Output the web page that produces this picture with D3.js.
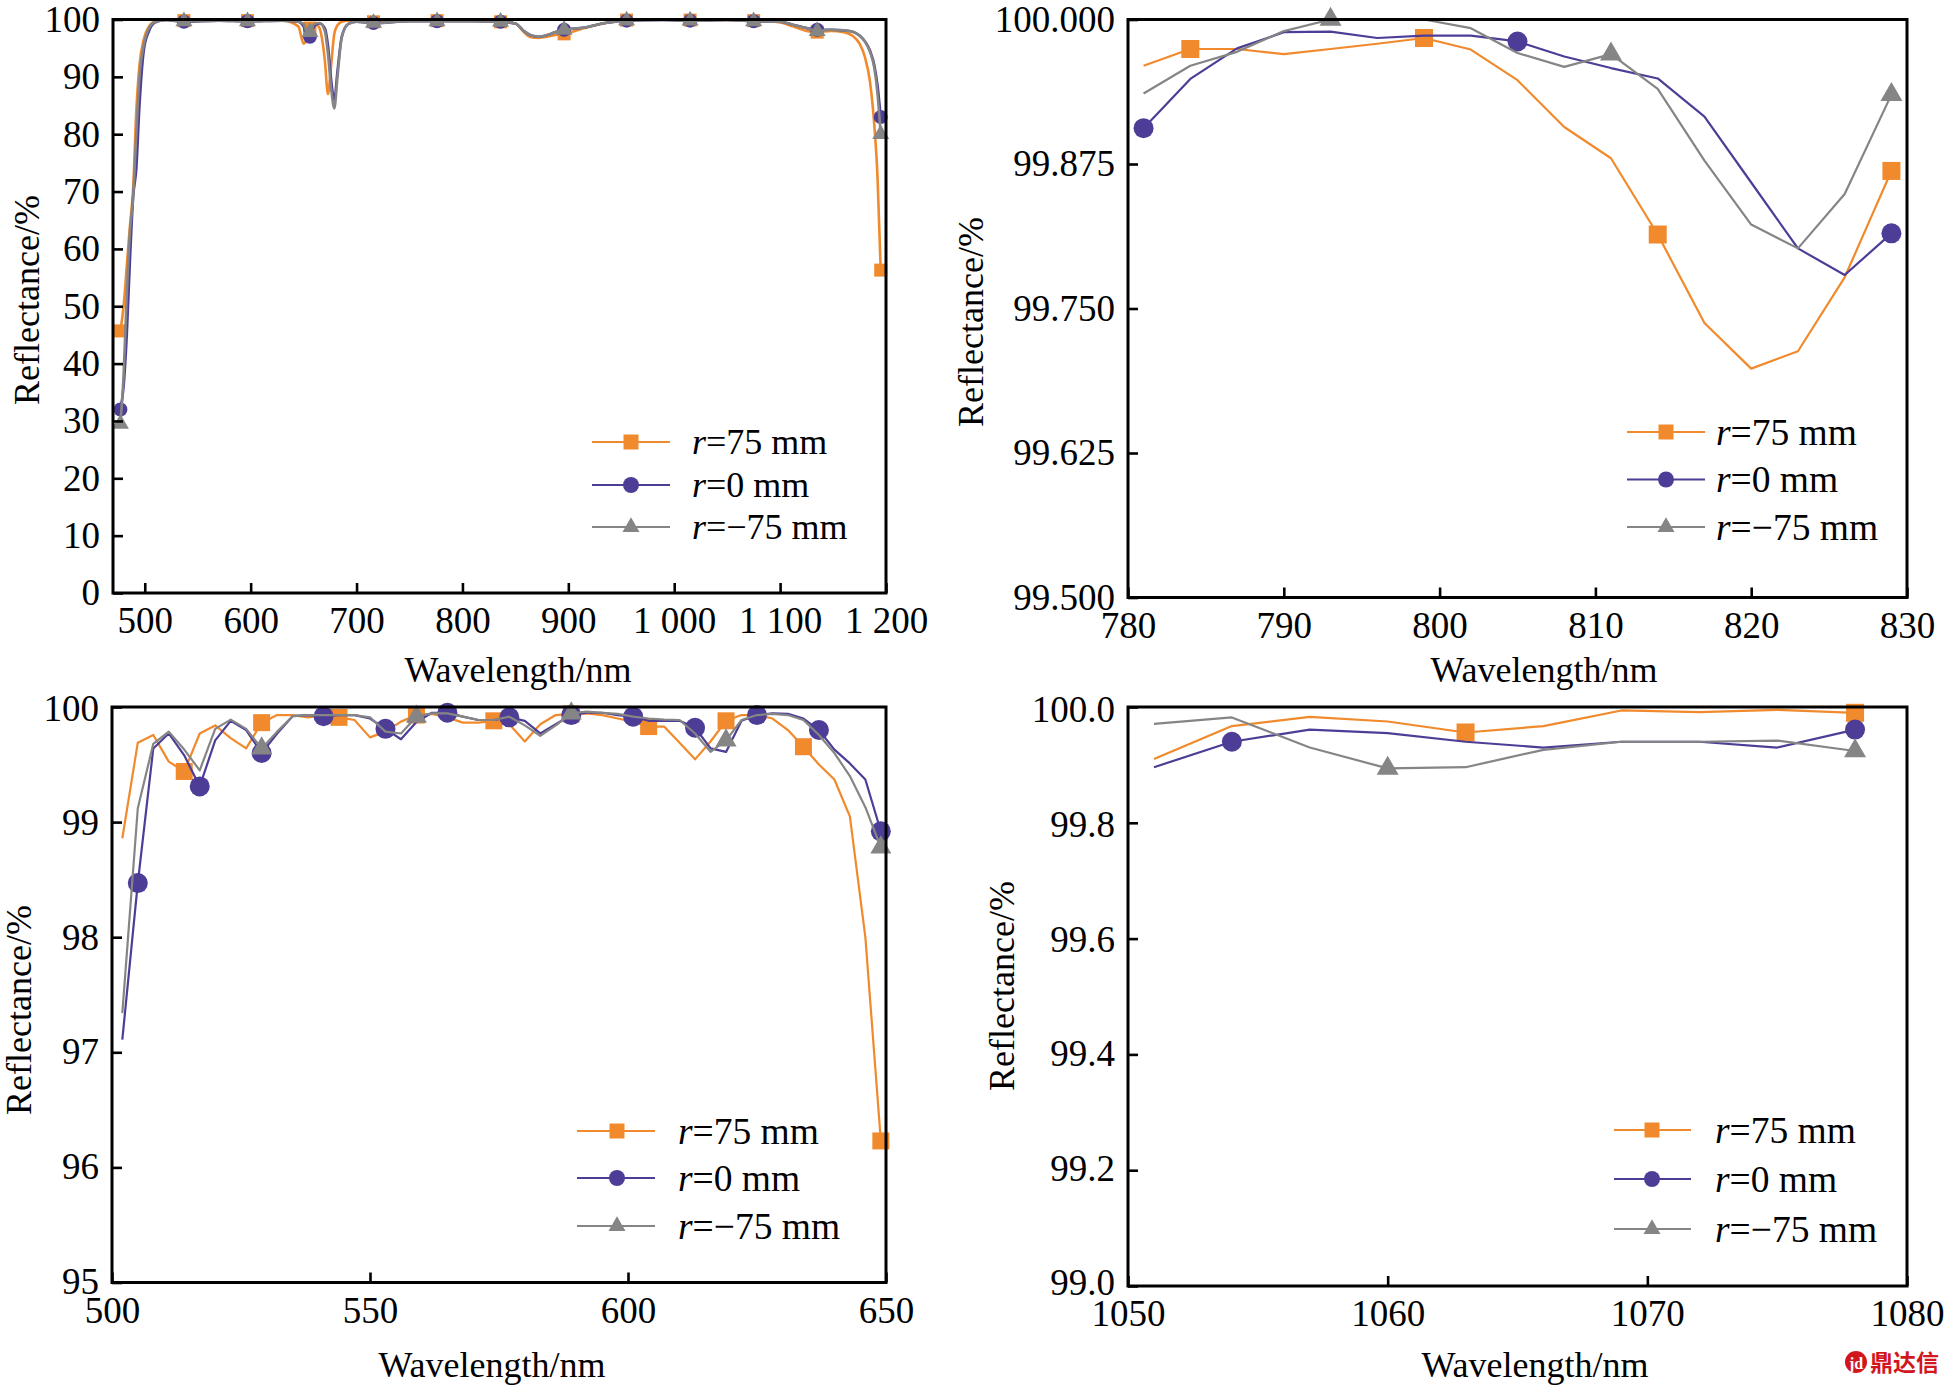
<!DOCTYPE html>
<html><head><meta charset="utf-8">
<script src="https://cdn.jsdelivr.net/npm/d3@7"></script>
<style>
body{margin:0;background:#fff}
svg{display:block}
text{font-family:"Liberation Serif","Times New Roman",serif;fill:#000}
</style>
</head><body>
<svg id="c" width="1944" height="1385"></svg>
<script>
// ---------------- DATA ----------------
const seriesNames = ["=75 mm", "=0 mm", "=\u221275 mm"];

// Panel (a): full band 470-1200 nm
const wl1 = [477,480,483,486,489,492,495,499,504,510,520,537,570,597,630,645,650,653,656,660,665,670,673,676,679,682,686,692,700,716,750,776,810,836,850,858,865,872,880,888,896,915,935,955,990,1015,1050,1075,1100,1112,1125,1135,1148,1160,1168,1175,1180,1185,1189,1192,1195];
const r75_1 = [45.7,50,57,64,70.5,84,92,96.5,98.8,99.7,99.9,99.8,99.9,99.8,99.8,98.8,95.8,96.5,98.5,99.4,98.5,93,87,92,97.5,99,99.6,99.8,99.8,99.6,99.8,99.8,99.8,99.6,99.3,97.8,96.9,96.8,97.0,97.3,97.5,98.5,99.4,99.9,100,99.9,99.9,99.8,99.5,98.8,98.0,97.8,98.0,97.8,97.2,95.8,93.5,89,81.5,72.5,56.3];
const r0_1  = [32,36,45,58,69,74,85,94.5,98,99.5,99.9,99.6,99.8,99.7,99.8,99.6,98.8,96.5,97.0,98.8,99.3,98.5,95.5,89.5,86,91,97,99.2,99.6,99.4,99.7,99.7,99.7,99.6,99.3,98.0,97.2,97.0,97.3,97.8,98.2,98.6,99.4,99.8,99.9,99.8,99.9,99.7,99.6,99.1,98.5,98.2,98.2,98.1,97.9,97.2,96.2,94.5,92,88.5,83];
const rm75_1= [29.5,38,52,63,69,80,90,95.5,98.5,99.6,99.9,99.7,99.8,99.7,99.8,99.6,99.2,97.8,97.8,99.2,99.4,98,94,88,84.5,90,96.8,99.2,99.6,99.4,99.7,99.7,99.7,99.6,99.3,98.0,97.2,97.0,97.3,97.8,98.2,98.6,99.4,99.8,99.9,99.8,99.9,99.7,99.6,99.1,98.5,98.0,98.2,98.1,97.9,97.2,96.2,94.3,91.5,87,80];
const marks1 = [477,537,597,656,716,776,836,896,955,1015,1075,1135,1195];
const xTicks1 = [500,600,700,800,900,1000,1100,1200];
const xLabels1 = ["500","600","700","800","900","1 000","1 100","1 200"];
const yTicks1 = [0,10,20,30,40,50,60,70,80,90,100];
const yLabels1 = ["0","10","20","30","40","50","60","70","80","90","100"];

// Panel (b): 780-830 nm
const wl2 = [781,784,787,790,793,796,799,802,805,808,811,814,817,820,823,826,829];
const r75_2 = [99.960,99.9745,99.9745,99.970,99.9745,99.979,99.984,99.974,99.9475,99.907,99.880,99.814,99.7375,99.698,99.713,99.777,99.869];
const r0_2  = [99.906,99.9486,99.975,99.989,99.9895,99.984,99.986,99.986,99.981,99.968,99.958,99.949,99.916,99.859,99.802,99.779,99.815];
const rm75_2= [99.936,99.960,99.972,99.990,100.0,100.0,100.0,99.9925,99.971,99.959,99.970,99.940,99.878,99.8226,99.802,99.849,99.935];
const marks2_r75 = [784,799,814,829];
const marks2_r0 = [781,805,829];
const marks2_rm75 = [793,811,829];
const xTicks2 = [780,790,800,810,820,830];
const xLabels2 = ["780","790","800","810","820","830"];
const yTicks2 = [99.5,99.625,99.75,99.875,100];
const yLabels2 = ["99.500","99.625","99.750","99.875","100.000"];

// Panel (c): 500-650 nm
const wl3 = [502,505,508,511,514,517,520,523,526,529,532,535,538,541,544,547,550,553,556,559,562,565,568,571,574,577,580,583,586,589,592,595,598,601,604,607,610,613,616,619,622,625,628,631,634,637,640,643,646,649];
const r75_3 = [98.86,99.69,99.757,99.525,99.44,99.77,99.84,99.73,99.64,99.864,99.93,99.93,99.91,99.93,99.91,99.887,99.736,99.786,99.873,99.93,99.94,99.91,99.864,99.864,99.88,99.85,99.70,99.85,99.93,99.94,99.945,99.93,99.90,99.873,99.83,99.83,99.69,99.545,99.70,99.88,99.93,99.93,99.90,99.80,99.655,99.50,99.37,99.05,98.00,96.23];
const r0_3  = [97.11,98.47,99.64,99.77,99.58,99.31,99.71,99.88,99.80,99.60,99.77,99.92,99.93,99.92,99.93,99.93,99.90,99.81,99.72,99.87,99.95,99.95,99.916,99.887,99.887,99.91,99.88,99.77,99.85,99.93,99.95,99.95,99.93,99.916,99.88,99.88,99.88,99.82,99.64,99.61,99.88,99.93,99.945,99.94,99.90,99.80,99.63,99.51,99.37,98.92];
const rm75_3= [97.34,99.12,99.68,99.786,99.63,99.45,99.81,99.89,99.81,99.64,99.786,99.92,99.93,99.93,99.93,99.93,99.91,99.786,99.77,99.916,99.945,99.945,99.916,99.887,99.887,99.916,99.84,99.75,99.84,99.945,99.96,99.95,99.94,99.916,99.90,99.89,99.887,99.77,99.61,99.71,99.887,99.93,99.94,99.93,99.887,99.757,99.60,99.40,99.13,98.78];
const marks3_r75 = [514,529,544,559,574,589,604,619,634,649];
const marks3_r0 = [505,517,529,541,553,565,577,589,601,613,625,637,649];
const marks3_rm75 = [529,559,589,619,649];
const xTicks3 = [500,550,600,650];
const xLabels3 = ["500","550","600","650"];
const yTicks3 = [95,96,97,98,99,100];
const yLabels3 = ["95","96","97","98","99","100"];

// Panel (d): 1050-1080 nm
const wl4 = [1051,1054,1057,1060,1063,1066,1069,1072,1075,1078];
const r75_4 = [99.910,99.967,99.983,99.975,99.956,99.967,99.994,99.991,99.995,99.990];
const r0_4  = [99.896,99.940,99.961,99.955,99.940,99.930,99.940,99.940,99.930,99.961];
const rm75_4= [99.971,99.982,99.930,99.894,99.896,99.926,99.940,99.940,99.942,99.924];
const marks4_r75 = [1063,1078];
const marks4_r0 = [1054,1078];
const marks4_rm75 = [1060,1078];
const xTicks4 = [1050,1060,1070,1080];
const xLabels4 = ["1050","1060","1070","1080"];
const yTicks4 = [99.0,99.2,99.4,99.6,99.8,100.0];
const yLabels4 = ["99.0","99.2","99.4","99.6","99.8","100.0"];

// ---------------- STYLE / LAYOUT ----------------
const COL = ["#F08A2C", "#4E3D96", "#858585"];
const SHAPES = [d3.symbolSquare, d3.symbolCircle, d3.symbolTriangle];
const xTitle = "Wavelength/nm", yTitle = "Reflectance/%";
const svg = d3.select("#c");

function symArea(shape, s){ // s = nominal width in px
  if(shape===d3.symbolSquare) return s*s;
  if(shape===d3.symbolCircle) return Math.PI*(s/2)*(s/2);
  return s*s*Math.sqrt(3)/4;
}

const panels = [
 {box:[113,19.5,886,593], xd:[470,1200], yd:[0,100], wl:wl1, vals:[r75_1,r0_1,rm75_1], marks:[marks1,marks1,marks1],
  xt:xTicks1, xl:xLabels1, yt:yTicks1, yl:yLabels1, smooth:true, lw:2.6, ms:[13,14,17], lblStretch:1.0, legFont:36,
  leg:{x0:592,x1:670,xm:631,xt:692,rows:[442,485,527]}, xTitlePos:[518,682], yTitlePos:[27,300]},
 {box:[1128,19.5,1907,597.5], xd:[780,830], yd:[99.5,100], wl:wl2, vals:[r75_2,r0_2,rm75_2], marks:[marks2_r75,marks2_r0,marks2_rm75],
  xt:xTicks2, xl:xLabels2, yt:yTicks2, yl:yLabels2, smooth:false, lw:2.2, ms:[18,20,22], lblStretch:1, legFont:37.5,
  leg:{x0:1627,x1:1705,xm:1666,xt:1716,rows:[432,479.5,527]}, xTitlePos:[1544,682], yTitlePos:[971,322]},
 {box:[112,707,886,1282.5], xd:[500,650], yd:[95,100], wl:wl3, vals:[r75_3,r0_3,rm75_3], marks:[marks3_r75,marks3_r0,marks3_rm75],
  xt:xTicks3, xl:xLabels3, yt:yTicks3, yl:yLabels3, smooth:false, lw:2.2, ms:[17,20,21], lblStretch:0.996, legFont:37.5,
  leg:{x0:577,x1:655,xm:617,xt:678,rows:[1131,1178,1226]}, xTitlePos:[492,1377], yTitlePos:[19,1010]},
 {box:[1128,707,1907,1286], xd:[1050,1080], yd:[99,100], wl:wl4, vals:[r75_4,r0_4,rm75_4], marks:[marks4_r75,marks4_r0,marks4_rm75],
  xt:xTicks4, xl:xLabels4, yt:yTicks4, yl:yLabels4, smooth:false, lw:2.2, ms:[18,20,22], lblStretch:0.99, legFont:37.5,
  leg:{x0:1614,x1:1691,xm:1652,xt:1715,rows:[1130,1179,1229]}, xTitlePos:[1535,1377], yTitlePos:[1002,986]}
];

function drawPanel(p){
  const [L,T,R,B] = p.box;
  const x = d3.scaleLinear().domain(p.xd).range([L,R]);
  const y = d3.scaleLinear().domain(p.yd).range([B,T]);
  const g = svg.append("g");

  // series
  p.vals.forEach((vals,k)=>{
    const pts = p.wl.map((w,i)=>[w,vals[i]]);
    const line = d3.line().x(d=>x(d[0])).y(d=>y(d[1])).curve(p.smooth?d3.curveMonotoneX:d3.curveLinear);
    g.append("path").attr("d", line(pts)).attr("fill","none")
      .attr("stroke", COL[k]).attr("stroke-width", p.lw).attr("stroke-linejoin","round");
    const sym = d3.symbol().type(SHAPES[k]).size(symArea(SHAPES[k], p.ms[k]));
    p.marks[k].forEach(m=>{
      const i = p.wl.indexOf(m);
      g.append("path").attr("d", sym()).attr("fill", COL[k])
        .attr("transform", `translate(${x(m)},${y(vals[i])})`);
    });
  });

  // axes
  const ax = g.append("g").attr("transform",`translate(0,${B})`)
    .call(d3.axisBottom(x).tickValues(p.xt).tickSize(-10).tickPadding(14)
      .tickFormat((d,i)=>p.xl[i]));
  const ay = g.append("g").attr("transform",`translate(${L},0)`)
    .call(d3.axisLeft(y).tickValues(p.yt).tickSize(-10).tickPadding(13)
      .tickFormat((d,i)=>p.yl[i]));
  [ax,ay].forEach(a=>{
    a.attr("font-family",null).attr("font-size",null);
    a.select(".domain").remove();
    a.selectAll("line").attr("stroke","#000").attr("stroke-width",2.6);
    a.selectAll("text").style("font-size","37px").style("font-family",'"Liberation Serif","Times New Roman",serif').attr("fill","#000");
  });
  // the printed y labels are spread slightly differently from the ticks
  const mid = (T+B)/2;
  ay.selectAll(".tick text").attr("y", d => (mid + (y(d)-mid)*p.lblStretch) - y(d));

  // frame
  g.append("rect").attr("x",L).attr("y",T).attr("width",R-L).attr("height",B-T)
    .attr("fill","none").attr("stroke","#000").attr("stroke-width",3);

  // titles
  g.append("text").attr("x",p.xTitlePos[0]).attr("y",p.xTitlePos[1])
    .attr("text-anchor","middle").style("font-size","36px").text(xTitle);
  g.append("text").attr("transform",`translate(${p.yTitlePos[0]+12},${p.yTitlePos[1]}) rotate(-90)`)
    .attr("text-anchor","middle").style("font-size","36px").text(yTitle);

  // legend
  const lg = p.leg;
  seriesNames.forEach((nm,k)=>{
    const yy = lg.rows[k];
    g.append("line").attr("x1",lg.x0).attr("x2",lg.x1).attr("y1",yy).attr("y2",yy)
      .attr("stroke",COL[k]).attr("stroke-width",2.2);
    const sym = d3.symbol().type(SHAPES[k]).size(symArea(SHAPES[k], [15,16,17][k]));
    g.append("path").attr("d",sym()).attr("fill",COL[k]).attr("transform",`translate(${lg.xm},${yy})`);
    const t = g.append("text").attr("x",lg.xt).attr("y",yy+p.legFont/3).style("font-size",p.legFont+"px");
    t.append("tspan").style("font-style","italic").text("r");
    t.append("tspan").text(nm);
  });
}

panels.forEach(drawPanel);

// watermark
const wm = svg.append("g");
wm.append("circle").attr("cx",1856).attr("cy",1362).attr("r",11).attr("fill","#d2161e");
wm.append("text").attr("x",1856).attr("y",1369).attr("text-anchor","middle")
  .style("font-size","16px").style("font-weight","bold").style("fill","#fff").text("jd");
wm.append("text").attr("x",1870).attr("y",1371).style("font-family",'"Noto Sans CJK SC",sans-serif')
  .style("font-size","23px").style("font-weight","bold").style("fill","#d2161e").text("鼎达信");
</script>
</body></html>
